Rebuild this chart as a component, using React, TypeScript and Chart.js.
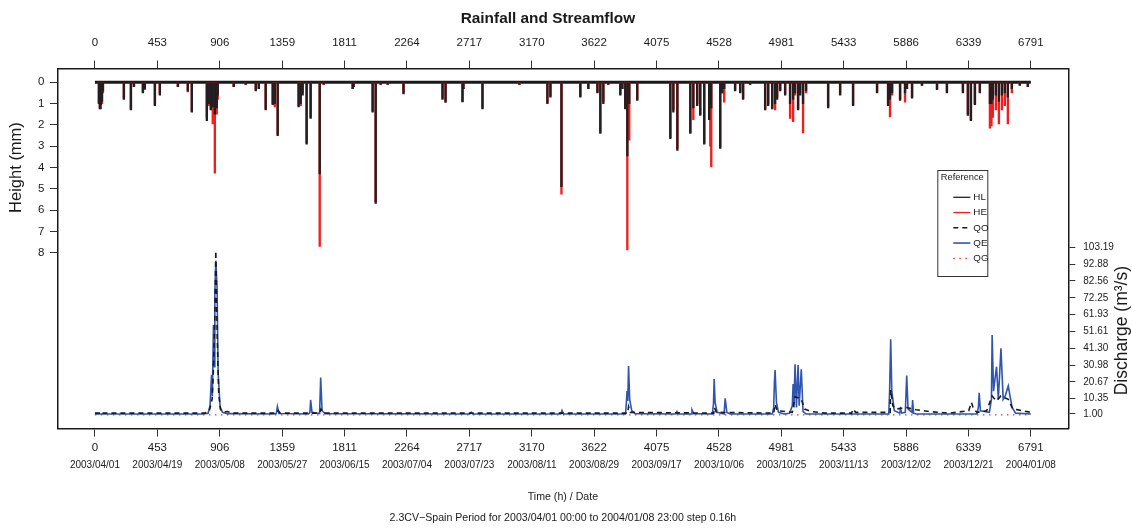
import React, { useEffect, useRef } from "react";
import { Chart, registerables } from "chart.js";

Chart.register(...registerables);

const FONT = "'Liberation Sans', Arial, Helvetica, sans-serif";
const INK = "#1a1a1a";

const TITLE = "Rainfall and Streamflow";
const HEIGHT_TITLE = "Height (mm)";
const DISCHARGE_TITLE = "Discharge (m³/s)";
const TIME_TITLE = "Time (h) / Date";
const PERIOD_NOTE = "2.3CV−Spain Period for 2003/04/01 00:00 to 2004/01/08 23:00 step 0.16h";
const LEGEND_TITLE = "Reference";
const LEGEND_LABELS = ["HL", "HE", "QO", "QE", "QG"];

// axis ticks
const hourTicks = [0, 453, 906, 1359, 1811, 2264, 2717, 3170, 3622, 4075, 4528, 4981, 5433, 5886, 6339, 6791];
const dateTicks = [
  "2003/04/01", "2003/04/19", "2003/05/08", "2003/05/27", "2003/06/15", "2003/07/04",
  "2003/07/23", "2003/08/11", "2003/08/29", "2003/09/17", "2003/10/06", "2003/10/25",
  "2003/11/13", "2003/12/02", "2003/12/21", "2004/01/08",
];
const heightTicks = [0, 1, 2, 3, 4, 5, 6, 7, 8];
const dischargeTicks = [1.0, 10.35, 20.67, 30.98, 41.3, 51.61, 61.93, 72.25, 82.56, 92.88, 103.19];

// axis ranges (hours, mm, m3/s)
const hourRange = [-271.64, 7062.64];
const heightRange = [-0.648, 16.25];
const dischargeRange = [-7.9, 212.8];

// rainfall: hour of event, observed (HL) and estimated (HE) height in mm
const rainHours = [
  29, 36, 43, 51, 58,
  210, 261, 283, 348, 362, 435, 471, 602, 674, 703,
  812, 826, 841, 855, 870, 884, 891,
  1007, 1094, 1167, 1189, 1239,
  1290, 1305, 1326,
  1478, 1493, 1507, 1536, 1565,
  1631, 1660,
  1870, 1877, 2015, 2037, 2073, 2124, 2239,
  2522, 2544, 2667, 2674, 2812, 3080,
  3283, 3305, 3385,
  3522, 3580, 3646, 3667, 3689, 3725,
  3812, 3827, 3848, 3863, 3877, 3935,
  4175, 4197, 4226,
  4320, 4342,
  4370, 4392, 4421,
  4457, 4465, 4472,
  4537, 4551, 4566,
  4645, 4682, 4703, 4754,
  4863, 4885, 4914, 4935, 4950,
  4972, 5008,
  5044, 5066, 5080,
  5102, 5117,
  5138, 5160,
  5320, 5407, 5501, 5675,
  5755, 5769, 5784,
  5842, 5878, 5892, 5929, 6001,
  6110, 6182,
  6298, 6334, 6356, 6385, 6421,
  6494, 6505, 6515, 6537, 6559, 6581, 6602, 6624, 6653,
  6711, 6769,
];
const rainHL = [
  1.0, 1.25, 1.05, 0.9, 0.4,
  0.8, 1.3, 0.2, 0.5, 0.3, 1.1, 0.6, 0.2, 0.4, 1.4,
  1.8, 1.0, 1.3, 1.15, 1.5, 1.2, 0.6,
  0.2, 0.1, 0.4, 0.3, 1.3,
  1.05, 1.0, 2.5,
  1.15, 1.0, 0.6, 2.9, 1.7,
  4.3, 0.1,
  0.3, 0.2, 1.4, 5.68, 0.1, 0.1, 0.55,
  0.8, 0.95, 0.92, 0.3, 1.25, 0.1,
  1.0, 0.7, 4.9,
  0.7, 0.3, 0.5, 2.4, 1.0, 0.1,
  0.6, 0.3, 1.25, 3.45, 1.0, 0.85,
  2.65, 1.4, 3.2,
  2.4, 1.2,
  1.1, 1.55, 2.9,
  1.75, 1.0, 1.2,
  3.1, 0.5, 0.3,
  0.4, 0.5, 0.8, 0.1,
  1.3, 1.1, 1.25, 1.0, 0.8,
  0.4, 0.6,
  1.0, 0.8, 0.5,
  1.3, 0.6,
  1.0, 0.4,
  1.2, 0.6, 1.1, 0.5,
  1.1, 0.8, 0.5,
  0.85, 0.5, 0.3, 0.75, 0.15,
  0.35, 0.5,
  0.5, 1.55, 1.8, 1.05, 0.5,
  1.0, 1.0, 0.8, 0.6, 0.9, 0.6, 0.5, 0.7, 0.3,
  0.15, 0.2,
];
const rainHE = [
  0.95, 1.2, 1.25, 1.0, 0.5,
  0.75, 1.25, 0.2, 0.45, 0.35, 1.05, 0.55, 0.2, 0.45, 1.35,
  1.65, 1.1, 1.25, 1.95, 4.27, 1.5, 0.8,
  0.2, 0.1, 0.35, 0.3, 1.25,
  1.0, 1.15, 2.45,
  1.1, 1.1, 0.5, 2.85, 1.65,
  7.7, 0.1,
  0.3, 0.2, 1.35, 5.6, 0.1, 0.1, 0.5,
  0.75, 0.9, 0.9, 0.3, 1.2, 0.1,
  0.95, 0.65, 5.25,
  0.65, 0.3, 0.45, 2.35, 0.9, 0.1,
  0.55, 0.3, 1.2, 7.87, 2.72, 0.8,
  2.6, 1.3, 3.1,
  2.35, 1.75,
  1.0, 1.5, 2.85,
  1.7, 3.0, 3.97,
  3.05, 0.5, 0.93,
  0.35, 0.45, 0.75, 0.1,
  1.25, 1.0, 1.2, 1.3, 0.7,
  0.35, 0.55,
  1.7, 1.85, 0.6,
  1.25, 0.5,
  2.38, 0.5,
  1.15, 0.55, 1.05, 0.45,
  1.05, 1.63, 0.6,
  0.8, 0.93, 0.3, 0.7, 0.15,
  0.3, 0.45,
  0.45, 1.5, 1.75, 1.0, 0.45,
  2.15, 2.05, 1.65, 1.3, 1.95, 1.3, 1.1, 1.95, 0.5,
  0.15, 0.2,
];

// observed streamflow QO (m3/s)
const qoHours = [
  0, 40, 50, 60, 800, 830, 850, 858, 870, 877, 883, 888, 898, 910, 930, 960, 1000,
  1320, 1330, 1345, 1630, 1640, 1660, 3865, 3872, 3885, 4490, 4495, 4510,
  4925, 4935, 4950, 5060, 5080, 5102, 5125, 5150, 5200, 5300, 5490, 5500, 5520,
  5770, 5774, 5790, 5810, 5890, 5935, 5960, 6050, 6200, 6340, 6360, 6375, 6400,
  6470, 6510, 6540, 6574, 6627, 6660, 6700, 6791,
];
const qoValues = [
  1.5, 1.5, 2.5, 1.5, 1.5, 3, 10, 24, 60, 101, 70, 46, 14, 4, 2, 2.5, 1.5,
  1.5, 3, 1.5, 1.5, 4, 1.5, 1.5, 5.5, 2, 1.5, 5, 2,
  1.5, 7, 3, 2, 11.6, 11, 10, 4, 2.5, 1.5, 1.5, 4, 2,
  2, 15.7, 6, 4, 5, 4, 3.6, 2.5, 1.5, 3, 8, 4, 2,
  3, 12, 9, 12, 10, 4, 3.5, 2,
];

// simulated streamflow QE (m3/s)
const qeHours = [
  0, 780, 821, 835, 846, 852, 860, 865, 870, 877, 886, 894, 908, 925, 960,
  1300, 1316, 1324, 1335, 1550, 1560, 1565, 1575, 1630, 1638, 1648, 1670,
  2720, 2730, 2740, 3380, 3389, 3400,
  3850, 3856, 3861, 3866, 3872, 3880, 3895, 3920,
  4215, 4223, 4232, 4325, 4332, 4345,
  4480, 4488, 4493, 4500, 4515, 4565, 4573, 4585, 4610,
  4915, 4925, 4930, 4935, 4945, 4960, 5000,
  5040, 5060, 5066, 5072, 5080, 5090, 5102, 5110, 5125, 5138, 5160,
  5760, 5766, 5774, 5782, 5800, 5840, 5845, 5855, 5880, 5890, 5900, 5928, 5933, 5940, 5960,
  6400, 6410, 6416, 6425, 6490, 6505, 6510, 6520, 6542, 6555, 6574, 6590, 6605, 6627, 6640, 6655, 6680, 6791,
];
const qeValues = [
  1.0, 1.0, 1.5, 6, 25, 12, 55.5, 30, 75, 95, 79, 26, 5.5, 2, 1.2,
  1.0, 1.2, 5.5, 1.3, 1.0, 2, 9.6, 2, 1.2, 23.3, 3, 1.2,
  1.0, 2, 1.0, 1.0, 3.2, 1.0,
  1.0, 8, 15, 9, 30.4, 10, 3, 1.2,
  1.0, 2.5, 1.0, 1.0, 3.5, 1.2,
  1.0, 7, 22.5, 8, 2, 1.0, 10.6, 2, 1.0,
  1.0, 5, 20, 28, 8, 2, 1.0,
  1.5, 6, 19.4, 5, 31.4, 5, 31, 6, 28.4, 2.5, 1.0,
  1.0, 15, 46.8, 15, 3, 1.5, 4, 1.5, 2, 24.5, 4, 2, 9.6, 1.5, 1.0,
  1.0, 5, 14, 3, 2, 10, 49.4, 15, 30, 10, 41.2, 10, 12, 18.2, 12, 5, 1.5, 1.0,
];

// groundwater flow QG (m3/s)
const qgHours = [0, 6791];
const qgValues = [0.4, 0.4];

const pts = (xs: number[], ys: number[]) => xs.map((x, i) => ({ x, y: ys[i] }));

const fixedTicks = (values: number[]) => (scale: any) => {
  scale.ticks = values.map((value) => ({ value }));
};

const tickFont = { family: FONT, size: 11.5 };

function drawVertical(ctx: CanvasRenderingContext2D, text: string, x: number, y: number, font: string) {
  ctx.save();
  ctx.translate(x, y);
  ctx.rotate(-Math.PI / 2);
  ctx.font = font;
  ctx.textAlign = "center";
  ctx.textBaseline = "middle";
  ctx.fillText(text, 0, 0);
  ctx.restore();
}

const decorations = {
  id: "decorations",
  afterDraw(chart: any) {
    const { ctx, chartArea: area, scales } = chart;
    const yRain = scales.yRain;
    const yQ = scales.yQ;
    const midX = (area.left + area.right) / 2;
    ctx.save();
    ctx.fillStyle = INK;
    ctx.textBaseline = "middle";
    ctx.textAlign = "center";

    ctx.font = `bold 15.4px ${FONT}`;
    ctx.fillText(TITLE, midX - 15, area.top - 50);

    ctx.font = `10.6px ${FONT}`;
    ctx.fillText(TIME_TITLE, midX, area.bottom + 69);
    ctx.fillText(PERIOD_NOTE, midX, area.bottom + 90);

    const rainMid =
      (yRain.getPixelForValue(heightTicks[0]) + yRain.getPixelForValue(heightTicks[heightTicks.length - 1])) / 2;
    drawVertical(ctx, HEIGHT_TITLE, area.left - 41, rainMid, `16.5px ${FONT}`);
    const qMid =
      (yQ.getPixelForValue(dischargeTicks[0]) + yQ.getPixelForValue(dischargeTicks[dischargeTicks.length - 1])) / 2;
    drawVertical(ctx, DISCHARGE_TITLE, area.right + 54, qMid, `17.5px ${FONT}`);

    // legend box
    const left = area.right - 131;
    const top = area.top + 101.5;
    const w = 50;
    const h = 106;
    ctx.fillStyle = "#ffffff";
    ctx.fillRect(left, top, w, h);
    ctx.strokeStyle = "#333";
    ctx.lineWidth = 1;
    ctx.strokeRect(left + 0.5, top + 0.5, w, h);
    ctx.fillStyle = INK;
    ctx.font = `9.3px ${FONT}`;
    ctx.textAlign = "center";
    ctx.fillText(LEGEND_TITLE, left + w / 2, top + 7);
    ctx.textAlign = "left";
    LEGEND_LABELS.forEach((label, i) => {
      const ds = chart.data.datasets.find((d: any) => d.label === label);
      const y = top + 27.3 + i * 15.25;
      ctx.save();
      ctx.strokeStyle = ds.type === "bar" ? ds.backgroundColor : ds.borderColor;
      ctx.lineWidth = ds.type === "bar" ? 1.3 : ds.borderWidth;
      ctx.setLineDash(ds.borderDash || []);
      ctx.beginPath();
      ctx.moveTo(left + 16, y);
      ctx.lineTo(left + 33, y);
      ctx.stroke();
      ctx.restore();
      ctx.fillStyle = INK;
      ctx.font = `9.8px ${FONT}`;
      ctx.fillText(label, left + 36, y);
    });
    ctx.restore();
  },
};

export default function App() {
  const ref = useRef<HTMLCanvasElement>(null);

  useEffect(() => {
    Chart.defaults.font.family = FONT;
    Chart.defaults.color = INK;
    const hourAxisBase = {
      type: "linear" as const,
      min: hourRange[0],
      max: hourRange[1],
      offset: false,
      afterBuildTicks: fixedTicks(hourTicks),
    };
    const tickGrid = (len: number) => ({
      display: true,
      offset: false,
      drawOnChartArea: false,
      drawTicks: true,
      tickLength: len,
      color: "#333",
      lineWidth: 1,
    });
    const chart = new Chart(ref.current as HTMLCanvasElement, {
      type: "line",
      data: {
        datasets: [
          {
            type: "bar",
            label: "HL",
            data: pts(rainHours, rainHL),
            xAxisID: "x",
            yAxisID: "yRain",
            backgroundColor: "#231f20",
            barThickness: 1.7,
            grouped: false,
            borderWidth: 0,
          },
          {
            type: "bar",
            label: "HE",
            data: pts(rainHours, rainHE),
            xAxisID: "x",
            yAxisID: "yRain",
            backgroundColor: "#f01e1e",
            barThickness: 1.7,
            grouped: false,
            borderWidth: 0,
          },
          {
            type: "line",
            label: "QO",
            data: pts(qoHours, qoValues),
            xAxisID: "x",
            yAxisID: "yQ",
            borderColor: "#1a1a1a",
            borderWidth: 1.6,
            borderDash: [5, 4],
            pointRadius: 0,
            fill: false,
            tension: 0,
          },
          {
            type: "line",
            label: "QE",
            data: pts(qeHours, qeValues),
            xAxisID: "x",
            yAxisID: "yQ",
            borderColor: "#2f55b0",
            borderWidth: 1.6,
            pointRadius: 0,
            fill: false,
            tension: 0,
          },
          {
            type: "line",
            label: "QG",
            data: pts(qgHours, qgValues),
            xAxisID: "x",
            yAxisID: "yQ",
            borderColor: "#f03030",
            borderWidth: 1.2,
            borderDash: [1.5, 4.5],
            pointRadius: 0,
            fill: false,
            tension: 0,
          },
          {
            type: "line",
            label: "",
            data: pts([hourTicks[0], hourTicks[hourTicks.length - 1]], [0, 0]),
            xAxisID: "x",
            yAxisID: "yRain",
            borderColor: "#1a1a1a",
            borderWidth: 3,
            pointRadius: 0,
            fill: false,
          },
        ],
      },
      options: {
        responsive: false,
        animation: false,
        devicePixelRatio: 1,
        events: [],
        layout: { padding: 0 },
        plugins: { legend: { display: false }, tooltip: { enabled: false }, title: { display: false } },
        scales: {
          x: {
            ...hourAxisBase,
            position: "bottom",
            weight: 0,
            ticks: {
              autoSkip: false,
              maxRotation: 0,
              minRotation: 0,
              padding: 4,
              color: INK,
              font: tickFont,
              callback: (v: any) => String(v),
            },
            grid: tickGrid(8),
            border: { display: true, color: INK, width: 1.5 },
            afterFit: (s: any) => {
              s.height = 28;
            },
          },
          xDate: {
            ...hourAxisBase,
            position: "bottom",
            weight: 1,
            ticks: {
              autoSkip: false,
              maxRotation: 0,
              minRotation: 0,
              padding: 2.5,
              color: INK,
              font: { family: FONT, size: 10 },
              callback: (_v: any, i: number) => dateTicks[i],
            },
            grid: { display: false, offset: false, drawTicks: false, tickLength: 0 },
            border: { display: false },
            afterFit: (s: any) => {
              s.height = 73.5;
            },
          },
          xTop: {
            ...hourAxisBase,
            position: "top",
            ticks: {
              autoSkip: false,
              maxRotation: 0,
              minRotation: 0,
              padding: 11,
              color: INK,
              font: tickFont,
              callback: (v: any) => String(v),
            },
            grid: tickGrid(8),
            border: { display: true, color: INK, width: 1.5 },
            afterFit: (s: any) => {
              s.height = 68.5;
            },
          },
          yRain: {
            type: "linear",
            position: "left",
            reverse: true,
            min: heightRange[0],
            max: heightRange[1],
            afterBuildTicks: fixedTicks(heightTicks),
            ticks: { padding: 5.7, color: INK, font: tickFont, callback: (v: any) => String(v) },
            grid: tickGrid(7.5),
            border: { display: true, color: INK, width: 1.5 },
            afterFit: (s: any) => {
              s.width = 57.5;
            },
          },
          yQ: {
            type: "linear",
            position: "right",
            min: dischargeRange[0],
            max: dischargeRange[1],
            afterBuildTicks: fixedTicks(dischargeTicks),
            ticks: {
              padding: 8,
              color: INK,
              font: { family: FONT, size: 10 },
              callback: (v: any) => Number(v).toFixed(2),
            },
            grid: tickGrid(7),
            border: { display: true, color: INK, width: 1.5 },
            afterFit: (s: any) => {
              s.width = 63.7;
            },
          },
        },
      } as any,
      plugins: [decorations],
    });
    return () => chart.destroy();
  }, []);

  return (
    <div style={{ position: "fixed", left: 0, top: 0, width: 1132, height: 530, background: "#ffffff" }}>
      <canvas ref={ref} width={1132} height={530} style={{ display: "block", width: 1132, height: 530 }} />
    </div>
  );
}
